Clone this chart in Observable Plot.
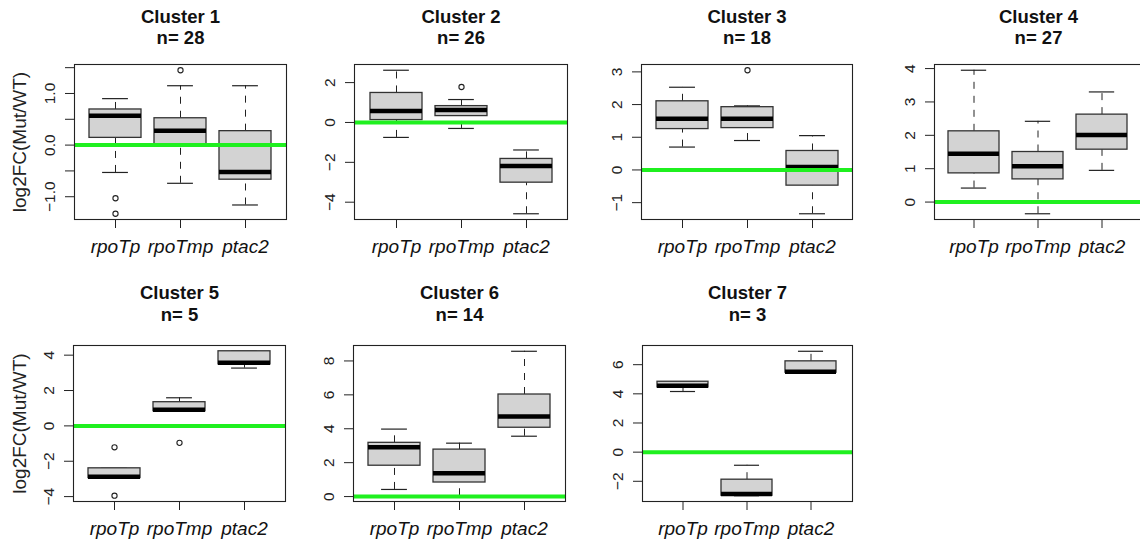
<!DOCTYPE html>
<html><head><meta charset="utf-8">
<script src="https://cdn.jsdelivr.net/npm/d3@7"></script>
<script src="https://cdn.jsdelivr.net/npm/@observablehq/plot@0.6"></script>
<style>
body{margin:0;background:#fff;}
#chart{position:relative;width:1140px;height:542px;overflow:hidden;background:#fff;font-family:"Liberation Sans",Arial,sans-serif;}
#chart svg{position:absolute;}
</style></head><body><div id="chart"></div>
<script>
// ---- data ----
const clusterNames = ["Cluster 1","Cluster 2","Cluster 3","Cluster 4","Cluster 5","Cluster 6","Cluster 7"];
const clusterSizes = [28, 26, 18, 27, 5, 14, 3];
const genes = ["rpoTp", "rpoTmp", "ptac2"];
const whiskerLow = [
  [-0.53, -0.74, -1.16],
  [-0.75, -0.30, -4.58],
  [0.70, 0.90, -1.34],
  [0.42, -0.35, 0.95],
  [-2.95, 0.83, 3.27],
  [0.42, 0.05, 3.56],
  [4.16, -2.99, 5.45]];
const quartile1 = [
  [0.14, 0.00, -0.67],
  [0.12, 0.32, -3.02],
  [1.25, 1.28, -0.48],
  [0.86, 0.68, 1.57],
  [-2.95, 0.83, 3.48],
  [1.82, 0.83, 4.06],
  [4.44, -2.99, 5.45]];
const medians = [
  [0.57, 0.28, -0.52],
  [0.57, 0.62, -2.18],
  [1.57, 1.57, 0.09],
  [1.45, 1.07, 2.01],
  [-2.87, 0.91, 3.57],
  [2.91, 1.37, 4.73],
  [4.55, -2.87, 5.52]];
const quartile3 = [
  [0.69, 0.52, 0.27],
  [1.48, 0.82, -1.83],
  [2.10, 1.92, 0.58],
  [2.12, 1.50, 2.62],
  [-2.40, 1.34, 4.22],
  [3.17, 2.77, 6.02],
  [4.83, -1.89, 6.23]];
const whiskerHigh = [
  [0.90, 1.15, 1.15],
  [2.62, 1.15, -1.38],
  [2.53, 1.96, 1.05],
  [3.95, 2.42, 3.30],
  [-2.40, 1.59, 4.22],
  [3.98, 3.15, 8.57],
  [4.83, -0.90, 6.92]];
const outliers = [
  [[-1.03, -1.33], [1.45], []],
  [[], [1.78], []],
  [[], [3.05], []],
  [[], [], []],
  [[-1.21, -3.95], [-0.96], []],
  [[], [], []],
  [[], [], []]];
const yTicks = [
  [-1, -0.5, 0, 0.5, 1, 1.5],
  [-4, -2, 0, 2],
  [-1, 0, 1, 2, 3],
  [0, 1, 2, 3, 4],
  [-4, -2, 0, 2, 4],
  [0, 2, 4, 6, 8],
  [-2, 0, 2, 4, 6]];
const yTickLabels = [
  ["−1.0", "", "0.0", "", "1.0", ""],
  ["−4", "−2", "0", "2"],
  ["−1", "0", "1", "2", "3"],
  ["0", "1", "2", "3", "4"],
  ["−4", "−2", "0", "2", "4"],
  ["0", "2", "4", "6", "8"],
  ["−2", "0", "2", "4", "6"]];
const yLabel = "log2FC(Mut/WT)";
const referenceLine = [0];

// ---- layout (page pixel positions of each panel frame) ----
const layout = [
  {L: 74, R: 286, T: 64, B: 219, t1: 17, t2: 38, ylab: true},
  {L: 354, R: 567, T: 64, B: 219, t1: 17, t2: 38},
  {L: 641, R: 852, T: 64, B: 219, t1: 17, t2: 38},
  {L: 934, R: 1142, T: 64, B: 219, t1: 17, t2: 38},
  {L: 73, R: 285, T: 345, B: 501, t1: 293, t2: 315, ylab: true},
  {L: 353, R: 565, T: 345, B: 501, t1: 293, t2: 315},
  {L: 642, R: 852, T: 345, B: 501, t1: 293, t2: 315}];
const ML = 80, MR = 6, MT = 70, MB = 45;
const GREEN = "#1ff01f";
const FONT = "Liberation Sans, Arial, sans-serif";

const chart = document.getElementById("chart");
clusterNames.forEach((name, i) => {
  const f = layout[i];
  const rows = genes.map((g, j) => ({gene: g, lo: whiskerLow[i][j], q1: quartile1[i][j], med: medians[i][j], q3: quartile3[i][j], hi: whiskerHigh[i][j]}));
  const outs = genes.flatMap((g, j) => outliers[i][j].map(v => ({gene: g, value: v})));
  const all = [...whiskerLow[i], ...whiskerHigh[i], ...outliers[i].flat()];
  const mn = d3.min(all), mx = d3.max(all), pad = (mx - mn) * 0.04;
  const W = f.R - f.L;
  const step = W / 3.24;
  const capInset = step * 0.8 / 4;
  const tickRows = yTicks[i].map((v, k) => ({v, t: yTickLabels[i][k]}));
  const marks = [
    Plot.ruleX(rows, {x: "gene", y1: "q3", y2: "hi", stroke: "#222", strokeDasharray: "7,7"}),
    Plot.ruleX(rows, {x: "gene", y1: "lo", y2: "q1", stroke: "#222", strokeDasharray: "7,7"}),
    Plot.tickY(rows, {x: "gene", y: "hi", stroke: "#222", strokeWidth: 1.2, insetLeft: capInset, insetRight: capInset}),
    Plot.tickY(rows, {x: "gene", y: "lo", stroke: "#222", strokeWidth: 1.2, insetLeft: capInset, insetRight: capInset}),
    Plot.barY(rows, {x: "gene", y1: "q1", y2: "q3", fill: "#d3d3d3", stroke: "#333", strokeWidth: 1.3}),
    Plot.tickY(rows, {x: "gene", y: "med", stroke: "#000", strokeWidth: 4.5}),
    Plot.dot(outs, {x: "gene", y: "value", r: 2.6, stroke: "#222", strokeWidth: 1.1, fill: "none"}),
    Plot.ruleY(referenceLine, {stroke: GREEN, strokeWidth: 4}),
    Plot.frame({stroke: "#222", strokeWidth: 1.1}),
    Plot.axisY(yTicks[i], {tickSize: 9, tickFormat: () => "", label: null, stroke: "#222"}),
    Plot.axisX({tickSize: 9, tickFormat: () => "", label: null, stroke: "#222"}),
    Plot.text(tickRows, {y: "v", text: "t", frameAnchor: "left", dx: -24, rotate: -90, textAnchor: "middle", lineAnchor: "middle", fontSize: 15.5, fill: "#222"}),
    Plot.text(genes, {x: d => d, text: d => d, frameAnchor: "bottom", dy: 27, textAnchor: "middle", lineAnchor: "middle", fontSize: 19, fontStyle: "italic", fill: "#111"}),
    Plot.text([name], {frameAnchor: "top", dy: f.t1 - f.T, textAnchor: "middle", lineAnchor: "middle", fontSize: 18.5, fontWeight: "bold", fill: "#111"}),
    Plot.text(["n= " + clusterSizes[i]], {frameAnchor: "top", dy: f.t2 - f.T, textAnchor: "middle", lineAnchor: "middle", fontSize: 18.5, fontWeight: "bold", fill: "#111"})
  ];
  if (f.ylab) marks.push(Plot.text([yLabel], {frameAnchor: "left", dx: 19 - f.L, rotate: -90, textAnchor: "middle", lineAnchor: "middle", fontSize: 19, fill: "#222"}));
  const plot = Plot.plot({
    width: W + ML + MR, height: f.B - f.T + MT + MB,
    marginLeft: ML, marginRight: MR, marginTop: MT, marginBottom: MB,
    style: {background: "transparent", overflow: "visible", fontFamily: FONT, maxWidth: "none"},
    x: {type: "band", domain: genes, paddingInner: 0.2, paddingOuter: 0.22},
    y: {domain: [mn - pad, mx + pad]},
    marks
  });
  plot.style.left = (f.L - ML) + "px";
  plot.style.top = (f.T - MT) + "px";
  chart.appendChild(plot);
});
</script></body></html>
